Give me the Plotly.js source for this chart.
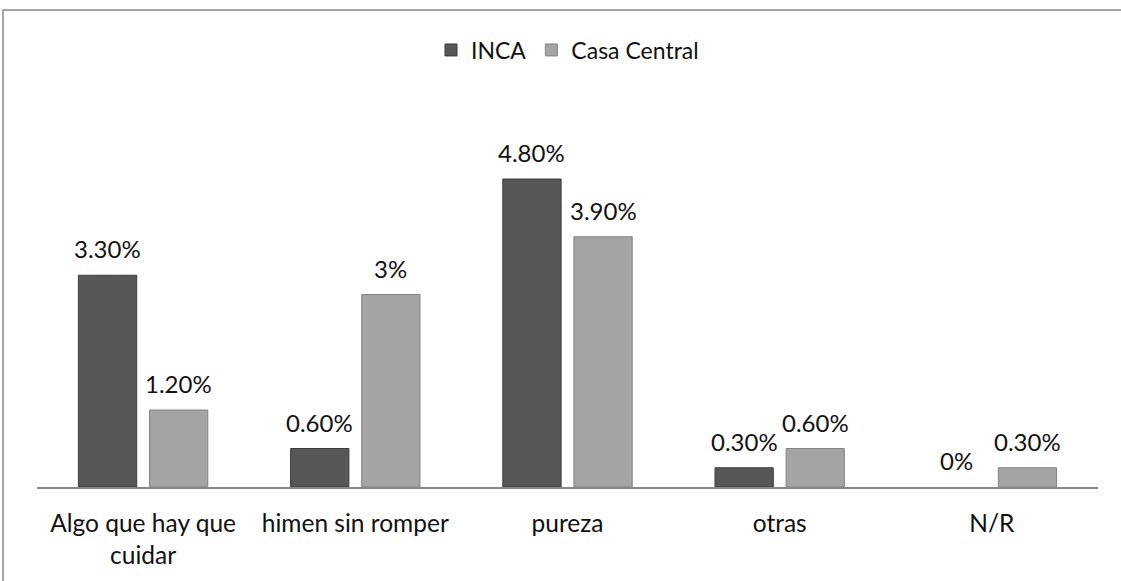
<!DOCTYPE html>
<html>
<head>
<meta charset="utf-8">
<script src="https://cdn.plot.ly/plotly-3.0.1.min.js"></script>
<style>
  html, body { margin: 0; padding: 0; background: #fff; }
  #chart { width: 1121px; height: 581px; }
</style>
</head>
<body>
<div id="chart"></div>
<script>
const categories = ["Algo que hay que<br>cuidar", "himen sin romper", "pureza", "otras", "N/R"];
const seriesNames = ["INCA", "Casa Central"];
const incaValues = [3.3, 0.6, 4.8, 0.3, 0];
const casaCentralValues = [1.2, 3.0, 3.9, 0.6, 0.3];
const incaLabels = ["3.30%", "0.60%", "4.80%", "0.30%", "0%"];
const casaCentralLabels = ["1.20%", "3%", "3.90%", "0.60%", "0.30%"];

const W = 1121, H = 581;
const margin = {l: 37, r: 23, t: 102, b: 94};
const bargap = 0.33, bargroupgap = 0.18;
const plotW = W - margin.l - margin.r;
const plotH = H - margin.t - margin.b;
const slot = plotW / categories.length;
const offset = slot * (1 - bargap) / 4;
const FONT = "Lato, 'Open Sans', sans-serif";

const traces = [
  {type: "bar", name: seriesNames[0], x: categories, y: incaValues,
   marker: {color: "#575757", line: {color: "#3c3c3c", width: incaValues.map(v => v > 0 ? 1 : 0)}},
   hoverinfo: "none"},
  {type: "bar", name: seriesNames[1], x: categories, y: casaCentralValues,
   marker: {color: "#a4a4a4", line: {color: "#838383", width: casaCentralValues.map(v => v > 0 ? 1 : 0)}},
   hoverinfo: "none"}
];

const annotations = [];
[[incaValues, incaLabels, -1], [casaCentralValues, casaCentralLabels, 1]].forEach(([vals, labs, sgn]) => {
  vals.forEach((v, i) => {
    annotations.push({
      x: categories[i], y: v, xref: "x", yref: "y", text: labs[i],
      showarrow: false, yanchor: "bottom", xanchor: "center",
      xshift: sgn * offset, yshift: 10,
      font: {family: FONT, size: 24, color: "#111"}
    });
  });
});

const layout = {
  width: W, height: H,
  margin: margin,
  paper_bgcolor: "#fff", plot_bgcolor: "#fff",
  barmode: "group", bargap: bargap, bargroupgap: bargroupgap,
  showlegend: true,
  legend: {orientation: "h", x: 0.5, xanchor: "center", y: (H - margin.b - 50) / plotH, yanchor: "middle",
           font: {family: FONT, size: 23, color: "#111"}, itemwidth: 30, traceorder: "normal"},
  xaxis: {
    showline: true, linecolor: "#888", linewidth: 1.5,
    ticks: "outside", ticklen: 14, tickcolor: "rgba(0,0,0,0)",
    tickfont: {family: FONT, size: 24.5, color: "#111"},
    showgrid: false, zeroline: false, fixedrange: true
  },
  yaxis: {range: [0, 6], visible: false, showgrid: false, zeroline: false, fixedrange: true},
  annotations: annotations,
  shapes: [{
    type: "rect", xref: "paper", yref: "paper",
    x0: (3 - margin.l) / plotW, x1: 1.2,
    y0: -0.5, y1: (H - margin.b - 10) / plotH,
    line: {color: "#888", width: 1.5}, fillcolor: "rgba(0,0,0,0)", layer: "below"
  }]
};

Plotly.newPlot("chart", traces, layout, {displayModeBar: false, staticPlot: true});
</script>
</body>
</html>
